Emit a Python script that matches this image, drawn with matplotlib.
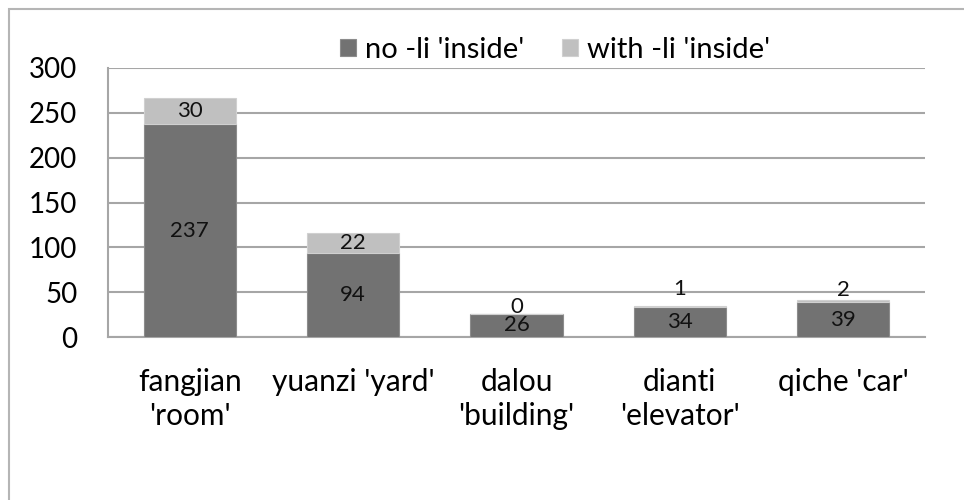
import matplotlib
matplotlib.use("Agg")
import matplotlib.pyplot as plt
from matplotlib.patches import Rectangle
import numpy as np

plt.rcParams['font.family'] = ['Lato', 'DejaVu Sans']

categories = ["fangjian\n'room'", "yuanzi 'yard'", "dalou\n'building'", "dianti\n'elevator'", "qiche 'car'"]
no_li = [237, 94, 26, 34, 39]
with_li = [30, 22, 0, 1, 2]
series_names = ["no -li 'inside'", "with -li 'inside'"]
y_ticks = [0, 50, 100, 150, 200, 250, 300]

# label nudges (points) for the tiny "with" segments
with_label_offsets = [0, 0, 5, 12, 8]

dark = '#727272'
light = '#c0c0c0'
grid_col = '#a6a6a6'

fig = plt.figure(figsize=(9.64, 5.0), dpi=100)
fig.patches.append(Rectangle((9 / 964, -0.1), 1.2, 1 - 9 / 500 + 0.1, transform=fig.transFigure,
                             fill=False, edgecolor='#b5b5b5', linewidth=1.5))
ax = fig.add_axes([108 / 964, 1 - 337 / 500, (925 - 108) / 964, (337 - 68) / 500])

x = np.arange(len(categories))
w = 0.565
ax.bar(x, no_li, w, color=dark, edgecolor='#8c8c8c', linewidth=0.8, label=series_names[0], zorder=3)
ax.bar(x, with_li, w, bottom=no_li, color=light, edgecolor='#d0d0d0', linewidth=0.8,
       label=series_names[1], zorder=3)

for i in range(len(x)):
    ax.text(x[i], no_li[i] / 2, str(no_li[i]), ha='center', va='center', fontsize=16, color='#111111', zorder=4)
    ax.annotate(str(with_li[i]), (x[i], no_li[i] + with_li[i] / 2), xytext=(0, with_label_offsets[i]),
                textcoords='offset points', ha='center', va='center', fontsize=16, color='#111111', zorder=4)

ax.set_xlim(-0.5, len(categories) - 0.5)
ax.set_ylim(0, 300)
ax.set_yticks(y_ticks)
ax.set_xticks(x)
ax.set_xticklabels(categories, fontsize=21.5, linespacing=1.28)
ax.tick_params(axis='y', labelsize=20, length=0, pad=22)
ax.tick_params(axis='x', length=0, pad=22)
ax.yaxis.grid(True, color=grid_col, linewidth=1.5, zorder=0)
ax.set_axisbelow(True)
for s in ['top', 'right']:
    ax.spines[s].set_visible(False)
for s in ['left', 'bottom']:
    ax.spines[s].set_color(grid_col)
    ax.spines[s].set_linewidth(1.5)

fig.legend(loc='center', bbox_to_anchor=(555 / 964, 1 - 50 / 500), ncol=2, frameon=False,
           fontsize=21, handlelength=0.55, handleheight=0.55, handletextpad=0.3, columnspacing=1.3)

fig.savefig('out.png', dpi=100, facecolor='white')
